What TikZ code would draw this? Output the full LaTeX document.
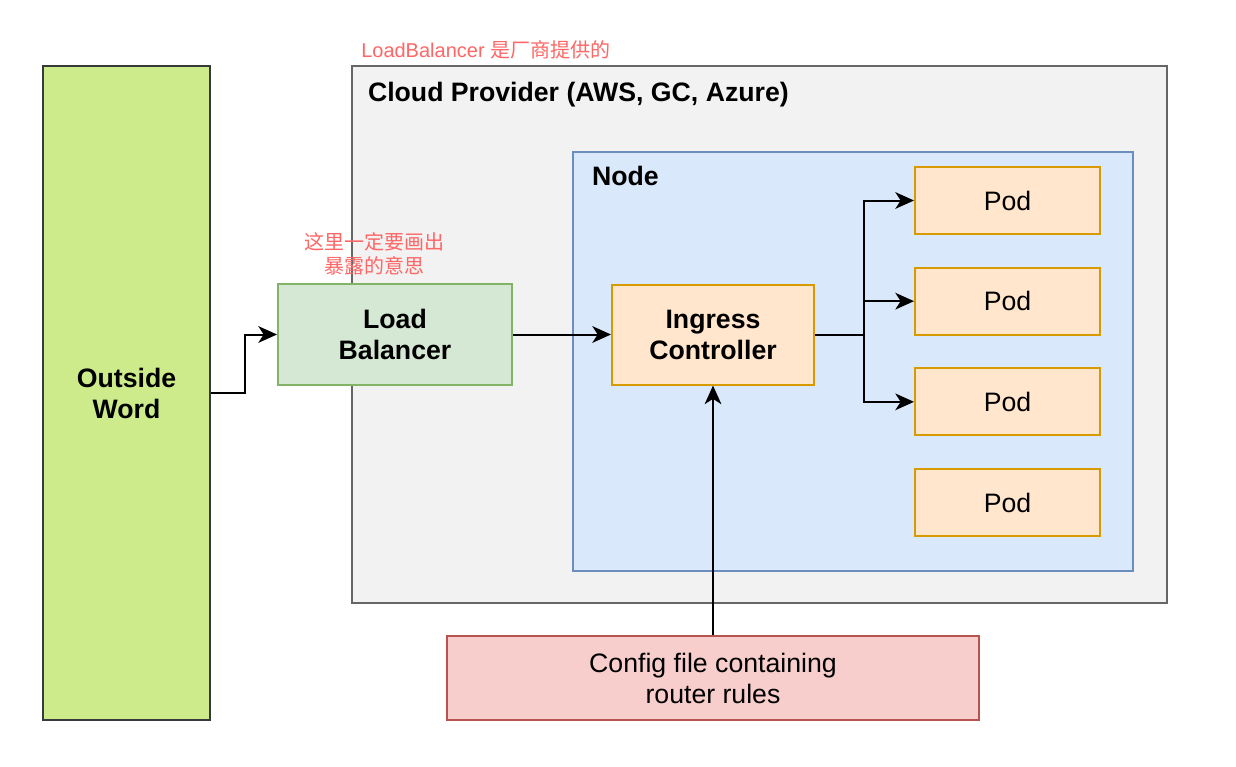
\documentclass[tikz,border=0pt]{standalone}
\usepackage{fontspec}
\setmainfont{Liberation Sans}
\newfontfamily\cjk{Noto Sans CJK SC}
\usetikzlibrary{arrows.meta,positioning}

\definecolor{outsidefill}{HTML}{CDEB8B}
\definecolor{outsideline}{HTML}{36393D}
\definecolor{cloudfill}{HTML}{F2F2F2}
\definecolor{cloudline}{HTML}{666666}
\definecolor{nodefill}{HTML}{DAE8FC}
\definecolor{nodeline}{HTML}{6C8EBF}
\definecolor{lbfill}{HTML}{D5E8D4}
\definecolor{lbline}{HTML}{82B366}
\definecolor{podfill}{HTML}{FFE6CC}
\definecolor{podline}{HTML}{D79B00}
\definecolor{cfgfill}{HTML}{F8CECC}
\definecolor{cfgline}{HTML}{B85450}
\definecolor{notered}{HTML}{FF6666}

\tikzset{
  box/.style={draw, line width=1.5pt, align=center, inner sep=0pt,
    font=\fontsize{20}{23.25}\selectfont},
  boldbox/.style={box, font=\fontsize{20}{23.25}\selectfont\bfseries},
  pod/.style={box, draw=podline, fill=podfill, minimum width=138.75pt, minimum height=50.25pt},
  conn/.style={line width=1.5pt, -{Stealth[length=14pt,width=12.5pt,inset=4pt]}},
  note/.style={text=notered, align=center, inner sep=0pt, font=\fontsize{15}{18}\selectfont}
}

\begin{document}
\begin{tikzpicture}[x=0.75pt,y=-0.75pt]
\fill[white] (0,0) rectangle (1236,767);
\useasboundingbox (0,0) rectangle (1236,767);

% containers
\node[box, draw=cloudline, fill=cloudfill, minimum width=611.25pt, minimum height=402.75pt] (cloud) at (759.5,334.5) {};
\node[box, draw=nodeline, fill=nodefill, minimum width=420pt, minimum height=314.25pt] (node) at (853,361.5) {};

\node[boldbox, anchor=west, draw=none] (cloudlabel) at (367,94.5) {Cloud Provider (AWS, GC, Azure)};
\node[boldbox, anchor=west, draw=none] (nodelabel) at (591,176) {Node};

\node[note, anchor=west] (lbnote) at (361,50) {LoadBalancer {\cjk 是厂商提供的}};
\node[note] (exposenote) at (374,254) {\cjk 这里一定要画出\\ \cjk 暴露的意思};

% boxes
\node[boldbox, draw=outsideline, fill=outsidefill, minimum width=125.25pt, minimum height=490.5pt] (outside) at (126.5,393) {Outside\\Word};
\node[boldbox, draw=lbline, fill=lbfill, minimum width=175.5pt, minimum height=75.75pt] (lb) at (395,334.5) {Load\\Balancer};
\node[boldbox, draw=podline, fill=podfill, minimum width=151.5pt, minimum height=75pt] (ingress) at (713,334.5) {Ingress\\Controller};
\node[box, draw=cfgline, fill=cfgfill, minimum width=399pt, minimum height=63pt] (config) at (713,678) {Config file containing\\router rules};

\foreach \i in {1,...,4}
  \node[pod] (pod\i) at (1007.5,{200.5+(\i-1)*100.67}) {Pod};

% connectors
\draw[conn] (outside.east) -- ++(34,0) |- (lb.west);
\draw[conn] (lb) -- (ingress);
\coordinate (split) at (864,334.5);
\draw[line width=1.5pt] (ingress.east) -- (split);
\foreach \i in {1,2,3}
  \draw[conn] (split) |- (pod\i.west);
\draw[conn] (config) -- (ingress);

\end{tikzpicture}
\end{document}
